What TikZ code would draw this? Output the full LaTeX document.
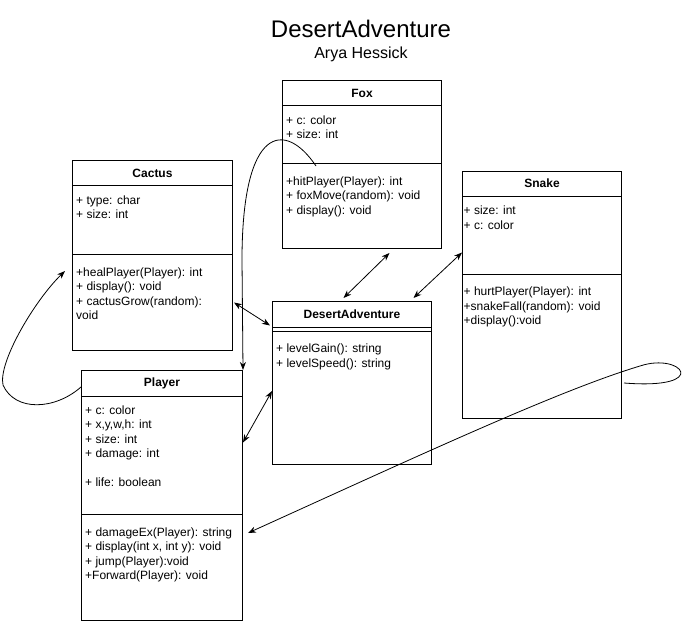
\documentclass[tikz,border=0pt]{standalone}
\usepackage{fontspec}
\setmainfont{Liberation Sans}
\usepackage{tikz}
\usetikzlibrary{calc,arrows.meta}

\tikzset{
  classbox/.style={draw, line width=1pt, fill=white, anchor=north west, inner sep=0pt},
  classname/.style={font=\fontsize{12}{14.4}\selectfont\bfseries},
  members/.style={font=\fontsize{12}{14.4}\selectfont, align=left, anchor=north west, inner sep=0pt},
  assoc/.style={<->, line width=0.8pt},
  curvy/.style={->, line width=0.8pt}
}

\begin{document}
\begin{tikzpicture}[x=1pt, y=-1pt, >={Stealth[length=8pt,width=6pt]}]
    \useasboundingbox (0,0) rectangle (683,623);

    % Title
    \node[anchor=base, font=\fontsize{24}{28}\selectfont] (title) at (361,38) {DesertAdventure};
    \node[anchor=base, font=\fontsize{16}{19}\selectfont] (author) at (361,59) {Arya Hessick};

    % Fox
    \node[classbox, minimum width=159pt, minimum height=168pt] (fox) at (282,80) {};
    \node[classname] (foxname) at ($(fox.north)+(0,13)$) {Fox};
    \draw[line width=1pt] ($(fox.north west)+(0,26)$) -- ($(fox.north east)+(0,26)$);
    \draw[line width=1pt] ($(fox.north west)+(0,84)$) -- ($(fox.north east)+(0,84)$);
    \node[members] (foxattr) at ($(fox.north west)+(4,34)$) {\strut+ c: color\\+ size: int};
    \node[members] (foxops) at ($(fox.north west)+(4,95)$) {\strut+hitPlayer(Player): int\\+ foxMove(random): void\\+ display(): void};

    % Cactus
    \node[classbox, minimum width=160pt, minimum height=190pt] (cactus) at (72,160) {};
    \node[classname] (cactusname) at ($(cactus.north)+(0,13)$) {Cactus};
    \draw[line width=1pt] ($(cactus.north west)+(0,26)$) -- ($(cactus.north east)+(0,26)$);
    \draw[line width=1pt] ($(cactus.north west)+(0,94)$) -- ($(cactus.north east)+(0,94)$);
    \node[members] (cactusattr) at ($(cactus.north west)+(4,34)$) {\strut+ type: char\\+ size: int};
    \node[members] (cactusops) at ($(cactus.north west)+(4,106)$) {\strut+healPlayer(Player): int\\+ display(): void\\+ cactusGrow(random):\\void};

    % Snake
    \node[classbox, minimum width=159pt, minimum height=247pt] (snake) at (462,171) {};
    \node[classname] (snakename) at ($(snake.north)+(0,12.5)$) {Snake};
    \draw[line width=1pt] ($(snake.north west)+(0,25)$) -- ($(snake.north east)+(0,25)$);
    \draw[line width=1pt] ($(snake.north west)+(0,103)$) -- ($(snake.north east)+(0,103)$);
    \node[members] (snakeattr) at ($(snake.north west)+(1.5,33.5)$) {\strut+ size: int\\+ c: color};
    \node[members] (snakeops) at ($(snake.north west)+(1.5,114.5)$) {\strut+ hurtPlayer(Player): int\\+snakeFall(random): void\\+display():void};

    % DesertAdventure
    \node[classbox, minimum width=159pt, minimum height=163pt] (da) at (272,301) {};
    \node[classname] (daname) at ($(da.north)+(0,13)$) {DesertAdventure};
    \draw[line width=1pt] ($(da.north west)+(0,26)$) -- ($(da.north east)+(0,26)$);
    \draw[line width=1pt] ($(da.north west)+(0,30)$) -- ($(da.north east)+(0,30)$);
    \node[members] (daops) at ($(da.north west)+(4,41.5)$) {\strut+ levelGain(): string\\+ levelSpeed(): string};

    % Player
    \node[classbox, minimum width=161pt, minimum height=250pt] (player) at (81,370) {};
    \node[classname] (playername) at ($(player.north)+(0,13)$) {Player};
    \draw[line width=1pt] ($(player.north west)+(0,26)$) -- ($(player.north east)+(0,26)$);
    \draw[line width=1pt] ($(player.north west)+(0,144)$) -- ($(player.north east)+(0,144)$);
    \node[members] (playerattr) at ($(player.north west)+(4,34)$) {\strut+ c: color\\+ x,y,w,h: int\\+ size: int\\+ damage: int\\\strut\\+ life: boolean};
    \node[members] (playerops) at ($(player.north west)+(4,156)$) {\strut+ damageEx(Player): string\\+ display(int x, int y): void\\+ jump(Player):void\\+Forward(Player): void};

    % Associations
    \draw[assoc] ($(fox.south)+(27.5,4)$) -- ($(da.north)+(-8.5,-3)$);
    \draw[assoc] ($(snake.west)+(0,-42.5)$) -- ($(da.north)+(61.5,-3)$);
    \draw[assoc] ($(cactus.east)+(1,47)$) -- ($(da.west)+(-2,-57.5)$);
    \draw[assoc] ($(player.east)+(0,-53)$) -- ($(da.west)+(0,8)$);

    % Curved links
    \draw[curvy] ($(fox.north west)+(34,86)$) .. controls (285,120) and (242,125) .. (242,260) -- (player.north east);
    \draw[curvy] ($(player.north west)+(0,17)$) .. controls (55,410) and (15,412) .. (3,385) .. controls (-2,362) and (35,300) .. ($(cactus.north west)+(-7,111)$);
    \draw[curvy] ($(snake.north east)+(2,212)$) .. controls (712,390) and (682,352) .. (640,366) .. controls (560,390) and (420,455) .. ($(player.north east)+(5,163)$);
\end{tikzpicture}
\end{document}
